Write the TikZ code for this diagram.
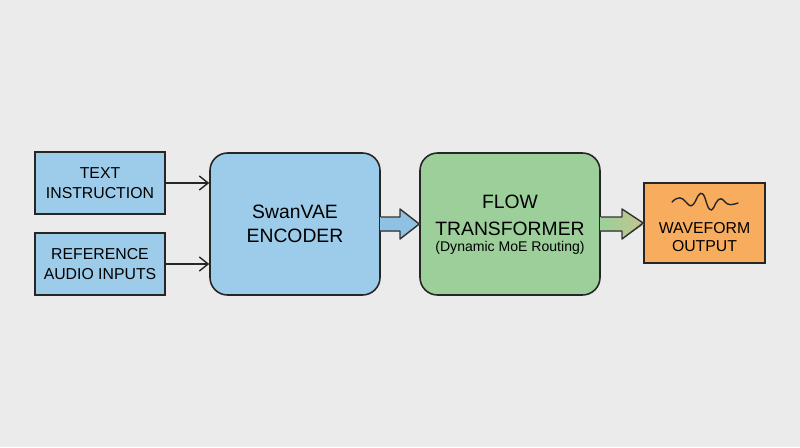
\documentclass[tikz,border=0pt]{standalone}
\usepackage{fontspec}
\setmainfont{Liberation Sans}
\usetikzlibrary{arrows.meta,positioning}
\definecolor{bg}{HTML}{EBEBEB}
\definecolor{bluef}{HTML}{9DCBEA}
\definecolor{greenf}{HTML}{9DCF9B}
\definecolor{orangef}{HTML}{F8AC5E}
\definecolor{arrb}{HTML}{8FC1E3}
\definecolor{arrt}{HTML}{C2C58E}
\begin{document}
\begin{tikzpicture}[x=0.02cm,y=-0.02cm,
  box/.style={draw=black!85,line width=0.9pt,align=center,inner sep=0pt},
  thin/.style={-{Straight Barb[length=5pt,width=8pt]},line width=0.8pt,black!85},
  blk/.style={draw=black!80,line width=0.8pt,line join=round}]
\fill[bg] (0,0) rectangle (800,447);
\useasboundingbox (0,0) rectangle (800,447);
\node[box,fill=bluef,minimum width=130*0.02cm,minimum height=62*0.02cm,font=\fontsize{9}{11}\selectfont] (ti) at (100,183) {TEXT\\INSTRUCTION};
\node[box,fill=bluef,minimum width=130*0.02cm,minimum height=62*0.02cm,font=\fontsize{9}{11}\selectfont] (ra) at (100,264) {REFERENCE\\AUDIO INPUTS};
\node[box,fill=bluef,rounded corners=10pt,minimum width=170*0.02cm,minimum height=142*0.02cm,font=\fontsize{11}{14}\selectfont] (enc) at (295,224) {SwanVAE\\ENCODER};
\node[box,fill=greenf,rounded corners=10pt,minimum width=180*0.02cm,minimum height=142*0.02cm] (ft) at (510,224) {};
\node[align=center,inner sep=0pt,font=\fontsize{11}{15.5}\selectfont] (ftt) at (510,215) {FLOW\\TRANSFORMER};
\node[inner sep=0pt,font=\fontsize{8}{10}\selectfont,below=3pt of ftt.south] (ftd) {(Dynamic MoE Routing)};
\node[box,fill=orangef,minimum width=121*0.02cm,minimum height=80*0.02cm] (wf) at (704.5,223) {};
\node[align=center,inner sep=0pt,font=\fontsize{9}{10.5}\selectfont] (wft) at (704.5,237) {WAVEFORM\\OUTPUT};
\draw[thin] (ti.east) -- (ti.east -| enc.west);
\draw[thin] (ra.east) -- (ra.east -| enc.west);
% block arrows
\fill[left color=arrb,right color=arrb] (380,217) -- (400,217) -- (400,209) -- (420,224) -- (400,239) -- (400,231) -- (380,231) -- cycle;
\draw[blk] (enc.east) ++(0,-7) -- (400,217) -- (400,209) -- (ft.west) -- (400,239) -- (400,231) -- ++(-20,0);
\fill[left color=greenf,right color=arrt] (600,217) -- (622,217) -- (622,209) -- (644,224) -- (622,239) -- (622,231) -- (600,231) -- cycle;
\draw[blk] (ft.east) ++(0,-7) -- (622,217) -- (622,209) -- (wf.west) -- (622,239) -- (622,231) -- ++(-22,0);
% waveform glyph
\draw[line width=0.8pt,black!85,line cap=round] (672,202) .. controls (678,196) and (682,197) .. (686,202)
  .. controls (690,207) and (692,208) .. (696,200) .. controls (699,193) and (702,190) .. (705,198)
  .. controls (708,208) and (710,214) .. (714,207) .. controls (717,200) and (720,196) .. (724,201)
  .. controls (728,206) and (732,205) .. (738,203);
\end{tikzpicture}
\end{document}
